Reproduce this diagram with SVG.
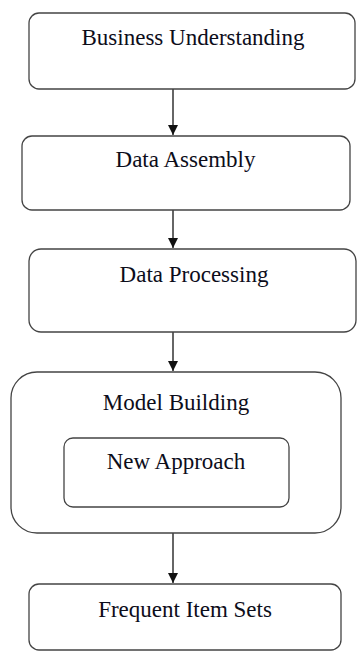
<svg xmlns="http://www.w3.org/2000/svg" width="357" height="652" viewBox="0 0 357 652">
<style>
.box{fill:#fff;stroke:#444;stroke-width:1.3}
.lbl{font-family:"Liberation Serif","Times New Roman",serif;font-size:23px;fill:#0d0d1a;text-anchor:middle}
.conn{stroke:#333;stroke-width:1.5;fill:none}
</style>
<defs>
<marker id="ah" viewBox="0 0 10 10" refX="10" refY="5" markerWidth="10" markerHeight="10" orient="auto" markerUnits="userSpaceOnUse">
<path d="M0,0 L10,5 L0,10 Z" fill="#111"/>
</marker>
</defs>
<rect width="357" height="652" fill="#fff"/>
<g id="connectors">
<line class="conn" x1="173" y1="89" x2="173" y2="135" marker-end="url(#ah)"/>
<line class="conn" x1="173" y1="210" x2="173" y2="248" marker-end="url(#ah)"/>
<line class="conn" x1="173" y1="332" x2="173" y2="371" marker-end="url(#ah)"/>
<line class="conn" x1="173" y1="533" x2="173" y2="583" marker-end="url(#ah)"/>
</g>
<g id="business-understanding">
<rect class="box" x="29" y="13" width="326" height="76" rx="10"/>
<text class="lbl" x="193" y="45">Business Understanding</text>
</g>
<g id="data-assembly">
<rect class="box" x="22" y="136" width="328" height="74" rx="10"/>
<text class="lbl" x="185.5" y="167">Data Assembly</text>
</g>
<g id="data-processing">
<rect class="box" x="29" y="249" width="327" height="83" rx="12"/>
<text class="lbl" x="194" y="282">Data Processing</text>
</g>
<g id="model-building">
<rect class="box" x="11" y="372" width="330" height="161" rx="26"/>
<text class="lbl" x="176" y="410">Model Building</text>
</g>
<g id="new-approach">
<rect class="box" x="64" y="438" width="225" height="69" rx="9"/>
<text class="lbl" x="176" y="469">New Approach</text>
</g>
<g id="frequent-item-sets">
<rect class="box" x="29" y="584" width="312" height="66" rx="10"/>
<text class="lbl" x="185" y="617">Frequent Item Sets</text>
</g>
</svg>
